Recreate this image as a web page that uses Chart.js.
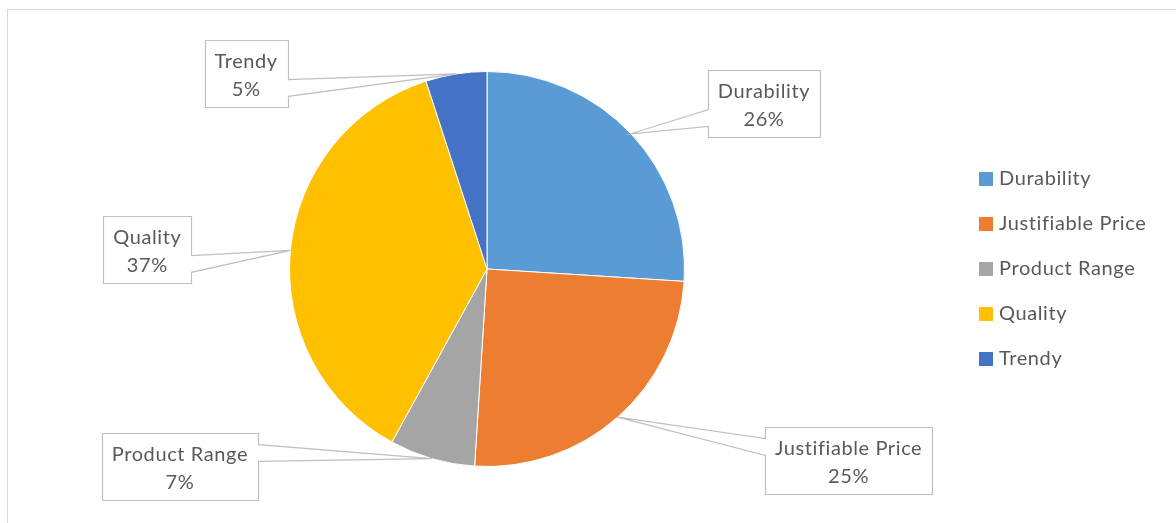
<!DOCTYPE html>
<html>
<head>
<meta charset="utf-8">
<title>Pie chart</title>
<script src="https://cdn.jsdelivr.net/npm/chart.js@4"></script>
<style>
  html, body { margin: 0; padding: 0; background: #fff; }
  #wrap { width: 1176px; height: 523px; position: relative; }
</style>
</head>
<body>
<div id="wrap"><canvas id="pieChart"></canvas></div>
<script>
const labels = ['Durability', 'Justifiable Price', 'Product Range', 'Quality', 'Trendy'];
const shares = [26, 25, 7, 37, 5];
const colors = ['#5B9BD5', '#ED7D31', '#A5A5A5', '#FFC000', '#4472C4'];

// where each callout box sits, relative to the point it points at
const calloutShift = [[133, -30], [231, 43], [-252, 8], [-143, -1], [-210, 0]];

const FONT = '20px Lato, "Open Sans", sans-serif';
const SPACING = '0.6px';
const TEXT = '#595959';
const LINE = '#BFBFBF';

// outer frame
const framePlugin = {
  id: 'frame',
  beforeDraw(chart) {
    const ctx = chart.ctx;
    ctx.save();
    ctx.strokeStyle = '#D9D9D9';
    ctx.lineWidth = 1;
    ctx.strokeRect(7.5, 9.5, 1300, 600);
    ctx.restore();
  }
};

// wedge-shaped callouts with category name + percent
const calloutPlugin = {
  id: 'callouts',
  afterDatasetsDraw(chart) {
    const ctx = chart.ctx;
    const arcs = chart.getDatasetMeta(0).data;
    const total = shares.reduce((a, b) => a + b, 0);
    ctx.save();
    ctx.font = FONT;
    ctx.letterSpacing = SPACING;
    arcs.forEach((arc, i) => {
      const p = arc.getProps(['x', 'y', 'startAngle', 'endAngle', 'outerRadius'], true);
      const mid = (p.startAngle + p.endAngle) / 2;
      const tx = p.x + Math.cos(mid) * p.outerRadius;
      const ty = p.y + Math.sin(mid) * p.outerRadius;
      const line1 = labels[i];
      const line2 = Math.round(shares[i] / total * 100) + '%';
      const w = Math.round(Math.max(ctx.measureText(line1).width, ctx.measureText(line2).width) + 20);
      const h = 67;
      const cx = tx + calloutShift[i][0];
      const cy = ty + calloutShift[i][1];
      const l = Math.round(cx - w / 2) + 0.5, r = l + w;
      const t = Math.round(cy - h / 2) + 0.5, b = t + h;
      // base of the wedge: upper or lower part of the side facing the tip
      const b1 = ty < cy ? t + h / 6 : t + h * 7 / 12;
      const b2 = ty < cy ? t + h * 5 / 12 : t + h * 5 / 6;

      ctx.beginPath();
      ctx.moveTo(l, t);
      ctx.lineTo(r, t);
      if (tx > cx) {
        ctx.lineTo(r, b1); ctx.lineTo(tx, ty); ctx.lineTo(r, b2);
      }
      ctx.lineTo(r, b);
      ctx.lineTo(l, b);
      if (tx < cx) {
        ctx.lineTo(l, b2); ctx.lineTo(tx, ty); ctx.lineTo(l, b1);
      }
      ctx.closePath();
      ctx.fillStyle = '#fff';
      ctx.fill();
      ctx.strokeStyle = LINE;
      ctx.lineWidth = 1.2;
      ctx.stroke();

      ctx.fillStyle = TEXT;
      ctx.textAlign = 'center';
      ctx.textBaseline = 'middle';
      ctx.fillText(line1, cx, t + 21);
      ctx.fillText(line2, cx, t + 49);
    });
    ctx.restore();
  }
};

// legend at the right
const legendPlugin = {
  id: 'sideLegend',
  afterDraw(chart) {
    const ctx = chart.ctx;
    ctx.save();
    ctx.font = FONT;
    ctx.letterSpacing = SPACING;
    ctx.textBaseline = 'middle';
    ctx.textAlign = 'left';
    labels.forEach((name, i) => {
      const y = 179 + i * 45;
      ctx.fillStyle = colors[i];
      ctx.fillRect(979, y - 7, 14, 14);
      ctx.fillStyle = TEXT;
      ctx.fillText(name, 999, y);
    });
    ctx.restore();
  }
};

new Chart(document.getElementById('pieChart'), {
  type: 'pie',
  data: {
    labels: labels,
    datasets: [{
      data: shares,
      backgroundColor: colors,
      borderColor: '#ffffff',
      borderWidth: 1
    }]
  },
  options: {
    responsive: true,
    maintainAspectRatio: false,
    animation: false,
    events: [],
    layout: { padding: { left: 289, right: 491, top: 71, bottom: 56 } },
    plugins: {
      legend: { display: false },
      tooltip: { enabled: false }
    }
  },
  plugins: [framePlugin, calloutPlugin, legendPlugin]
});
</script>
</body>
</html>
